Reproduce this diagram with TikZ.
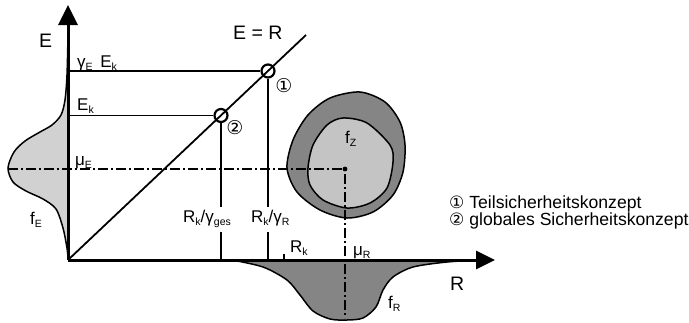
\documentclass[tikz,border=0pt]{standalone}
\usepackage{fontspec}
\setmainfont{Liberation Sans}
\newfontfamily\circfont{DejaVu Sans}
\usetikzlibrary{arrows.meta,positioning,calc}
\definecolor{fEgray}{gray}{0.82}
\definecolor{fRgray}{gray}{0.52}
\definecolor{fZout}{gray}{0.52}
\definecolor{fZin}{gray}{0.77}
\newcommand{\sub}[1]{\raisebox{-3pt}{\fontsize{10.5}{10}\selectfont #1}}
\newcommand{\bigfont}{\fontsize{19.5}{20}\selectfont}
\newcommand{\legnum}[1]{\raisebox{-0.5pt}{\circfont\fontsize{17}{17}\selectfont #1}}

\begin{document}
\begin{tikzpicture}[
  x=1pt,y=-1pt,
  every node/.style={font=\fontsize{17}{17}\selectfont,inner sep=0pt},
  lab/.style={anchor=base west},
  gaplab/.style={anchor=base west,inner ysep=2pt,text depth=8pt},
  axis/.style={line width=3pt},
  guide/.style={line width=1.8pt},
  dist/.style={draw,line width=1.5pt},
  dashdot/.style={line width=1.6pt,dash pattern=on 10pt off 3pt on 2pt off 3pt},
  ring/.style={circle,draw,line width=2.2pt,minimum size=13pt},
  num/.style={font=\circfont\fontsize{19}{19}\selectfont},
  leg/.style={anchor=base west,font=\fontsize{17.6}{18}\selectfont,text height=12pt,text depth=3pt}
]
\useasboundingbox (0,0) rectangle (689,322);
\coordinate (O) at (68,260);
\coordinate (Etop) at (68,5);
\coordinate (Rend) at (495,260);
\coordinate (Dend) at (306,35);
\coordinate (mE) at (8,169);
\coordinate (zc) at (345,169);
\coordinate (mR) at (345,318);
\coordinate (rk) at (284,260);
% distributions
\draw[dist,fill=fEgray] plot[smooth] coordinates {(68,35) (67,75) (65,100) (61,115) (52,125)
  (40,132) (25,141) (14,152) (8,168) (13,182) (26,191) (43,199) (56,209) (63,228) (67,248) (68,258)} -- cycle;
\draw[dist,fill=fRgray] plot[smooth] coordinates {(232,260) (263,267) (287,280) (300,295) (313,311)
  (330,319) (347,320) (363,318) (376,307) (383,290) (393,277) (413,267) (447,262) (480,260)} -- cycle;
\draw[dist,fill=fZout] plot[smooth cycle] coordinates {(360,92) (385,102) (400,122) (405,145) (403,172)
  (393,195) (373,212) (347,218) (320,210) (297,192) (287,168) (293,140) (308,115) (330,98)};
\draw[dist,fill=fZin] plot[smooth cycle] coordinates {(343,118) (367,123) (390,145) (393,162) (387,188)
  (370,203) (347,208) (323,200) (310,185) (308,168) (313,145) (327,125)};
% means
\draw[dashdot] (mE) -- (zc) -- (mR);
\fill (zc) circle (2.4pt);
% design points
\node[ring] (p1) at (268,71) {};
\node[ring] (p2) at (221,115.5) {};
\node[gaplab] (lgR) at (251,222) {R\sub{k}/γ\sub{R}};
\node[gaplab] (lges) at (183,222) {R\sub{k}/γ\sub{ges}};
\draw[guide] (O) -- (Dend);
\draw[guide] (O |- p1) -- (p1);
\draw[guide] (O |- p2) -- (p2);
\draw[guide] (p1) -- (p1 |- lgR.north);
\draw[guide] (p1 |- lgR.south) -- (p1 |- O);
\draw[guide] (p2) -- (p2 |- lges.north);
\draw[guide] (p2 |- lges.south) -- (p2 |- O);
\draw[guide] (rk) -- ++(0,-6);
% axes
\draw[axis,-{Triangle[length=20pt,width=19pt]}] (O) -- (Etop);
\draw[axis,-{Triangle[length=19pt,width=18pt]}] (O) -- (Rend);
% labels
\node[lab,font=\bigfont] (Elab) at (39,47) {E};
\node[lab,font=\bigfont] (Rlab) at (450,290) {R};
\node[lab,font=\bigfont] (ER) at (233,39) {E = R};
\node[lab] (gEk) at (77,67) {γ\sub{E}\, E\sub{k}};
\node[lab] (Ek) at (77,110) {E\sub{k}};
\node[lab] (muE) at (75,165) {μ\sub{E}};
\node[lab] (fE) at (30,224) {f\sub{E}};
\node[lab] (fZ) at (345,143) {f\sub{Z}};
\node[lab] (Rk) at (290,252) {R\sub{k}};
\node[lab] (muR) at (353,255) {μ\sub{R}};
\node[lab] (fR) at (388,308) {f\sub{R}};
\node[num] (n1) at (284,86) {①};
\node[num] (n2) at (235,128) {②};
\node[leg] (leg1) at (449,208) {\legnum{①} Teilsicherheitskonzept};
\node[leg] (leg2) at (449,225) {\legnum{②} globales Sicherheitskonzept};
\end{tikzpicture}
\end{document}
